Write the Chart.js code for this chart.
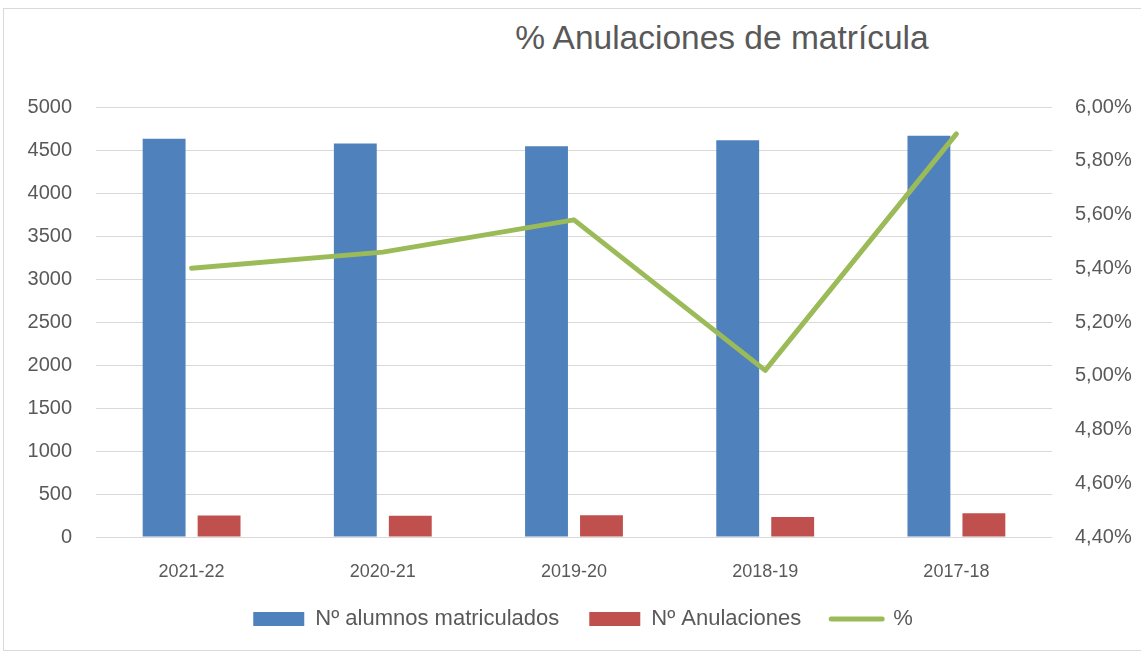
<!DOCTYPE html>
<html>
<head>
<meta charset="utf-8">
<script src="https://cdn.jsdelivr.net/npm/chart.js@4"></script>
<style>
  html, body { margin: 0; background: #fff; overflow: hidden; }
  #box {
    position: absolute; left: 3px; top: 8px; width: 1140px; height: 643px;
    border: 1px solid #d9d9d9; box-sizing: border-box; background: #fff;
  }
  #title {
    position: absolute; left: 0; top: 10px; width: 1436px; text-align: center;
    font-family: "Liberation Sans", sans-serif;
    font-size: 33.5px; color: #595959; white-space: nowrap;
  }
  #wrap { position: absolute; left: 0; top: 0; width: 1138px; height: 641px; }
</style>
</head>
<body>
<div id="box">
  <div id="title">% Anulaciones de matrícula</div>
  <div id="wrap"><canvas id="anulacionesChart"></canvas></div>
</div>
<script>
const cursos = ["2021-22", "2020-21", "2019-20", "2018-19", "2017-18"];
const matriculados = [4630, 4575, 4545, 4612, 4665];
const anulaciones = [250, 248, 254, 234, 276];
const porcentaje = [5.40, 5.46, 5.58, 5.02, 5.90];

const azul = "#4f81bd";
const rojo = "#c0504d";
const verde = "#9bbb59";
const gris = "#595959";

const ctx = document.getElementById("anulacionesChart").getContext("2d");

new Chart(ctx, {
  type: "bar",
  data: {
    labels: cursos,
    datasets: [
      {
        label: "Nº alumnos matriculados",
        data: matriculados,
        backgroundColor: azul,
        yAxisID: "y",
        categoryPercentage: 0.575,
        barPercentage: 0.78,
        order: 2,
      },
      {
        label: "Nº Anulaciones",
        data: anulaciones,
        backgroundColor: rojo,
        yAxisID: "y",
        categoryPercentage: 0.575,
        barPercentage: 0.78,
        order: 2,
      },
      {
        type: "line",
        label: "%",
        data: porcentaje,
        borderColor: verde,
        backgroundColor: verde,
        borderWidth: 5,
        borderCapStyle: "round",
        borderJoinStyle: "round",
        pointRadius: 0,
        pointHoverRadius: 0,
        tension: 0,
        fill: false,
        yAxisID: "y1",
        order: 1,
      },
    ],
  },
  options: {
    responsive: true,
    maintainAspectRatio: false,
    animation: false,
    layout: {
      padding: { top: 98, left: 20, right: 0, bottom: 10 },
    },
    plugins: {
      title: { display: false },
      tooltip: { enabled: false },
      legend: {
        position: "bottom",
        labels: {
          color: gris,
          font: { family: "Liberation Sans", size: 22 },
          usePointStyle: true,
          pointStyleWidth: 51,
          boxHeight: 14,
          padding: 30,
          generateLabels(chart) {
            const items = Chart.defaults.plugins.legend.labels.generateLabels(chart);
            items.sort((a, b) => a.datasetIndex - b.datasetIndex);
            items.forEach((it) => {
              if (it.datasetIndex === 2) {
                it.pointStyle = "line";
                it.lineWidth = 5;
                it.strokeStyle = verde;
                it.lineCap = "round";
              } else {
                it.pointStyle = "rect";
                it.lineWidth = 0;
              }
            });
            return items;
          },
        },
      },
    },
    scales: {
      x: {
        grid: { display: false, drawTicks: false },
        border: { display: false },
        ticks: {
          color: gris,
          padding: 24,
          font: { family: "Liberation Sans", size: 18 },
        },
        afterFit(s) {
          s.paddingLeft = 0;
          s.paddingRight = 0;
          s.height = 41;
        },
      },
      y: {
        position: "left",
        min: 0,
        max: 5000,
        grid: { color: "#d9d9d9", lineWidth: 1, drawTicks: false },
        border: { display: false },
        ticks: {
          stepSize: 500,
          color: gris,
          padding: 24,
          font: { family: "Liberation Sans", size: 20 },
          callback: (v) => String(v),
        },
        afterFit(s) {
          s.width = 72;
        },
      },
      y1: {
        position: "right",
        min: 4.4,
        max: 6.0,
        grid: { drawOnChartArea: false, drawTicks: false },
        border: { display: false },
        ticks: {
          stepSize: 0.2,
          color: gris,
          padding: 23,
          font: { family: "Liberation Sans", size: 20 },
          callback: (v) => v.toFixed(2).replace(".", ",") + "%",
        },
        afterFit(s) {
          s.width = 90;
        },
      },
    },
  },
});
</script>
</body>
</html>
